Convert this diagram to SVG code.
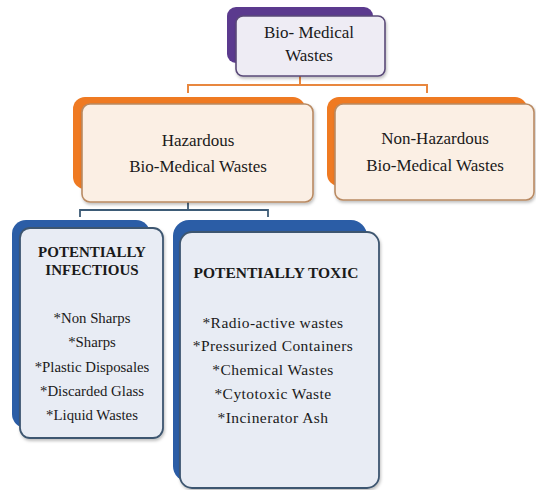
<svg xmlns="http://www.w3.org/2000/svg" width="536" height="490" viewBox="0 0 536 490">
<defs>
<style>
.pb{fill:#5b3a8e}
.pf{fill:#eeecf4;stroke:#5a4a78;stroke-width:1.6}
.ob{fill:#ef7a22}
.of{fill:#fbefe4;stroke:#b98a62;stroke-width:1.6}
.bb{fill:#2b5da6}
.bf{fill:#e8ecf4;stroke:#3e5670;stroke-width:1.8}
.c1{fill:none;stroke:#e8873f;stroke-width:2}
.c2{fill:none;stroke:#3d5b76;stroke-width:1.8}
</style>
<filter id="sh" x="-10%" y="-10%" width="125%" height="125%">
<feDropShadow dx="1" dy="2" stdDeviation="1.5" flood-color="#000" flood-opacity="0.25"/>
</filter>
</defs>
<rect width="536" height="490" fill="#ffffff"/>
<g id="connectors">
<path class="c1" d="M300 76 V85 M188 93 V85 H427 V93"/>
<path class="c2" d="M188 202 V210 M80 217 V210 H268 V217"/>
</g>
<g id="bio-medical-wastes">
<rect class="pb" x="227" y="7" width="146" height="56" rx="9"/>
<rect class="pf" x="236" y="16" width="149" height="60" rx="7" filter="url(#sh)"/>
<text x="309" y="38" font-family="Liberation Serif" font-size="17" fill="#1a1a1a" text-anchor="middle">Bio- Medical</text>
<text x="309" y="61" font-family="Liberation Serif" font-size="17" fill="#1a1a1a" text-anchor="middle">Wastes</text>
</g>
<g id="hazardous">
<rect class="ob" x="73" y="97" width="232" height="92" rx="12"/>
<rect class="of" x="82" y="104" width="231" height="98" rx="8" filter="url(#sh)"/>
<text x="198" y="146" font-family="Liberation Serif" font-size="17" fill="#1a1a1a" text-anchor="middle">Hazardous</text>
<text x="198" y="172" font-family="Liberation Serif" font-size="17" fill="#1a1a1a" text-anchor="middle">Bio-Medical Wastes</text>
</g>
<g id="non-hazardous">
<rect class="ob" x="327" y="97" width="200" height="89" rx="12"/>
<rect class="of" x="335" y="104" width="199" height="96" rx="8" filter="url(#sh)"/>
<text x="435" y="144" font-family="Liberation Serif" font-size="17" fill="#1a1a1a" text-anchor="middle">Non-Hazardous</text>
<text x="435" y="171" font-family="Liberation Serif" font-size="17" fill="#1a1a1a" text-anchor="middle">Bio-Medical Wastes</text>
</g>
<g id="potentially-infectious">
<rect class="bb" x="12" y="220" width="138" height="208" rx="14"/>
<rect class="bf" x="20" y="228" width="143" height="210" rx="10" filter="url(#sh)"/>
<text x="92" y="257" font-family="Liberation Serif" font-size="15" font-weight="bold" fill="#1a1a1a" text-anchor="middle">POTENTIALLY</text>
<text x="92" y="275" font-family="Liberation Serif" font-size="15" font-weight="bold" fill="#1a1a1a" text-anchor="middle">INFECTIOUS</text>
<text x="92" y="323" font-family="Liberation Serif" font-size="14.8" fill="#1a1a1a" text-anchor="middle">*Non Sharps</text>
<text x="92" y="347" font-family="Liberation Serif" font-size="14.8" fill="#1a1a1a" text-anchor="middle">*Sharps</text>
<text x="92" y="372" font-family="Liberation Serif" font-size="14.8" fill="#1a1a1a" text-anchor="middle">*Plastic Disposales</text>
<text x="92" y="396" font-family="Liberation Serif" font-size="14.8" fill="#1a1a1a" text-anchor="middle">*Discarded Glass</text>
<text x="92" y="420" font-family="Liberation Serif" font-size="14.8" fill="#1a1a1a" text-anchor="middle">*Liquid Wastes</text>
</g>
<g id="potentially-toxic">
<rect class="bb" x="173" y="220" width="194" height="262" rx="16"/>
<rect class="bf" x="180" y="232" width="199" height="256" rx="12" filter="url(#sh)"/>
<text x="276" y="278" font-family="Liberation Serif" font-size="15.5" font-weight="bold" fill="#1a1a1a" text-anchor="middle">POTENTIALLY TOXIC</text>
<text x="273" y="328" font-family="Liberation Serif" font-size="15.5" letter-spacing="0.45" fill="#1a1a1a" text-anchor="middle">*Radio-active wastes</text>
<text x="273" y="351" font-family="Liberation Serif" font-size="15.5" letter-spacing="0.45" fill="#1a1a1a" text-anchor="middle">*Pressurized Containers</text>
<text x="273" y="375" font-family="Liberation Serif" font-size="15.5" letter-spacing="0.45" fill="#1a1a1a" text-anchor="middle">*Chemical Wastes</text>
<text x="273" y="399" font-family="Liberation Serif" font-size="15.5" letter-spacing="0.45" fill="#1a1a1a" text-anchor="middle">*Cytotoxic Waste</text>
<text x="273" y="423" font-family="Liberation Serif" font-size="15.5" letter-spacing="0.45" fill="#1a1a1a" text-anchor="middle">*Incinerator Ash</text>
</g>
</svg>
